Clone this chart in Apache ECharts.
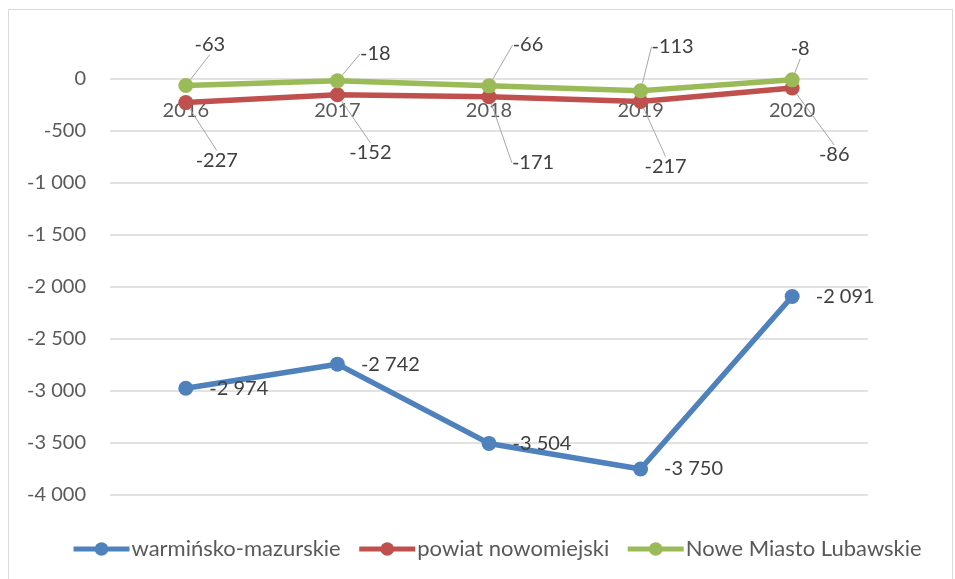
<!DOCTYPE html>
<html>
<head>
<meta charset="utf-8">
<script src="https://cdn.jsdelivr.net/npm/echarts@6/dist/echarts.min.js"></script>
<style>
html,body{margin:0;padding:0;background:#fff;}
#main{width:955px;height:579px;}
</style>
</head>
<body>
<div id="main"></div>
<script>
var years=['2016','2017','2018','2019','2020'];
var seriesNames=['warmińsko-mazurskie','powiat nowomiejski','Nowe Miasto Lubawskie'];
var wojewodztwo=[-2974,-2742,-3504,-3750,-2091];
var powiat=[-227,-152,-171,-217,-86];
var miasto=[-63,-18,-66,-113,-8];
var yTicks=[0,-500,-1000,-1500,-2000,-2500,-3000,-3500,-4000];

// przesuniecia etykiet (od srodka punktu)
var offsets={
  1:[[31,58],[33,58],[44,66],[25,65],[42,67]],
  2:[[24,-41],[38,-27],[39,-41],[32,-44],[8,-31]]
};

function fmt(v){
  var s=Math.abs(v).toString().replace(/\B(?=(\d{3})+(?!\d))/g,' ');
  return (v<0?'-':'')+s;
}

var myChart=echarts.init(document.getElementById('main'));
var font='Lato';
var lead={show:true,lineStyle:{color:'#a6a6a6',width:1}};

var option={
  animation:false,
  textStyle:{fontFamily:font},
  graphic:[{type:'rect',shape:{x:8.5,y:9.5,width:944,height:580},style:{fill:'none',stroke:'#d9d9d9',lineWidth:1}}],
  grid:{left:110,right:87,top:79,bottom:84},
  legend:{
    bottom:14,left:66,
    itemWidth:56,itemHeight:17,itemGap:16,
    lineStyle:{width:5},
    textStyle:{fontFamily:font,fontSize:22,color:'#595959',padding:[0,0,0,-3]},
    data:seriesNames
  },
  xAxis:{
    type:'category',
    data:years,
    position:'top',
    axisLine:{show:false,onZero:false},
    axisTick:{show:false},
    axisLabel:{inside:true,fontFamily:font,fontSize:20,color:'#595959',margin:22}
  },
  yAxis:{
    type:'value',
    min:yTicks[yTicks.length-1],max:yTicks[0],interval:500,
    axisLine:{show:false},axisTick:{show:false},
    splitLine:{lineStyle:{color:'#d9d9d9',width:1.5}},
    axisLabel:{fontFamily:font,fontSize:20,color:'#595959',margin:24,formatter:fmt}
  },
  series:[
    {
      name:seriesNames[0],type:'line',data:wojewodztwo,
      symbol:'circle',symbolSize:15,
      lineStyle:{width:5.5,color:'#4f81bd'},itemStyle:{color:'#4f81bd'},
      label:{show:true,position:'right',distance:16,fontFamily:font,fontSize:20,color:'#404040',
        formatter:function(p){return fmt(p.value);}}
    },
    {
      name:seriesNames[1],type:'line',data:powiat,
      symbol:'circle',symbolSize:15,
      lineStyle:{width:5.5,color:'#c0504d'},itemStyle:{color:'#c0504d'},
      label:{show:true,position:'inside',fontFamily:font,fontSize:20,color:'#404040',
        formatter:function(p){return fmt(p.value);}},
      labelLine:lead
    },
    {
      name:seriesNames[2],type:'line',data:miasto,
      symbol:'circle',symbolSize:15,
      lineStyle:{width:5.5,color:'#9bbb59'},itemStyle:{color:'#9bbb59'},
      label:{show:true,position:'inside',fontFamily:font,fontSize:20,color:'#404040',
        formatter:function(p){return fmt(p.value);}},
      labelLine:lead
    }
  ],
  labelLayout:function(p){
    var o=offsets[p.seriesIndex];
    if(!o)return {};
    return {dx:o[p.dataIndex][0],dy:o[p.dataIndex][1]};
  }
};
myChart.setOption(option);
</script>
</body>
</html>
